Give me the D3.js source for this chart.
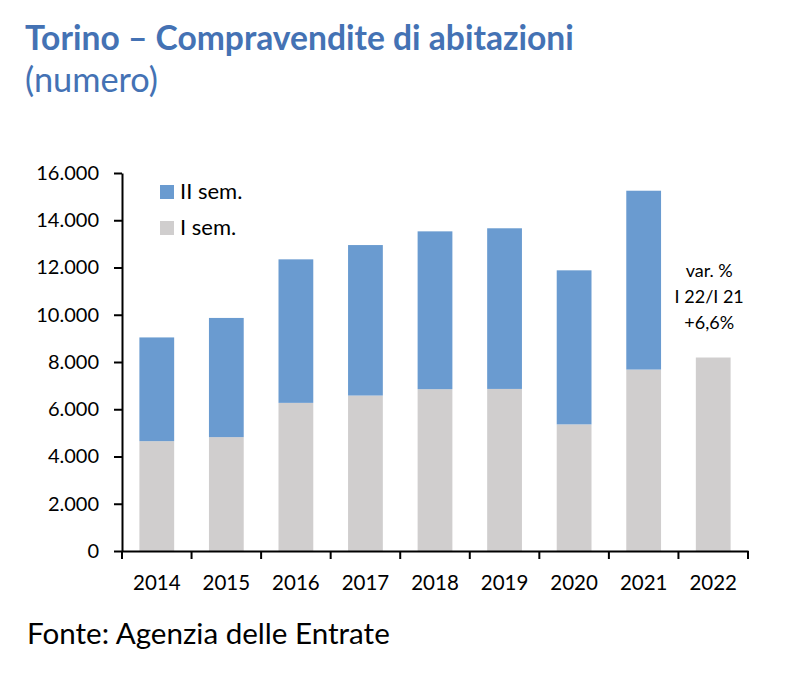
<!DOCTYPE html>
<html>
<head>
<meta charset="utf-8">
<script src="https://cdn.jsdelivr.net/npm/d3@7"></script>
<style>
  html, body { margin: 0; padding: 0; background: #fff; }
  svg { display: block; font-family: Lato, "Open Sans", sans-serif; }
</style>
</head>
<body>
<svg id="chart" width="786" height="682"></svg>
<script>
// ---- data ----
const years = ["2014","2015","2016","2017","2018","2019","2020","2021","2022"];
const firstHalf  = [4650, 4820, 6270, 6580, 6850, 6860, 5360, 7680, 8190];
const secondHalf = [4390, 5045, 6075, 6370, 6680, 6800, 6520, 7570, 0];
const yTicks = [0, 2000, 4000, 6000, 8000, 10000, 12000, 14000, 16000];
const seriesNames = ["I sem.", "II sem."];
const titleLines = ["Torino \u2013 Compravendite di abitazioni", "(numero)"];
const noteLines = ["var. %", "I 22/I 21", "+6,6%"];
const sourceText = "Fonte: Agenzia delle Entrate";

const colors = { "I sem.": "#D0CECE", "II sem.": "#6A9BD0" };
const titleColor = "#4472B4";

const svg = d3.select("#chart");
const plotLeft = 122, plotRight = 748, plotTop = 173, plotBottom = 551;

const x = d3.scaleBand().domain(years).range([plotLeft, plotRight]).paddingInner(0.5).paddingOuter(0.25);
const y = d3.scaleLinear().domain([0, 16000]).range([plotBottom, plotTop]);

const locale = d3.formatLocale({ decimal: ",", thousands: ".", grouping: [3], currency: ["", ""] });
const fmt = locale.format(",d");

// fit a text element's font size so it spans a target width
function fitWidth(sel, base, target) {
  sel.attr("font-size", base);
  const w = sel.node().getComputedTextLength();
  if (w > 0) sel.attr("font-size", base * target / w);
  return sel;
}

// title
fitWidth(svg.append("text").attr("x", 25).attr("y", 50)
  .attr("fill", titleColor).attr("font-weight", 700)
  .text(titleLines[0]), 32, 549);
fitWidth(svg.append("text").attr("x", 25).attr("y", 92)
  .attr("fill", titleColor)
  .text(titleLines[1]), 32, 133);

// stacked data
const rows = years.map((yr, i) => ({ year: yr, "I sem.": firstHalf[i], "II sem.": secondHalf[i] }));
const stack = d3.stack().keys(seriesNames)(rows);

svg.append("g").selectAll("g").data(stack).join("g")
  .attr("fill", d => colors[d.key])
  .selectAll("rect").data(d => d.filter(p => p[1] > p[0])).join("rect")
  .attr("x", d => x(d.data.year))
  .attr("width", x.bandwidth())
  .attr("y", d => y(d[1]))
  .attr("height", d => y(d[0]) - y(d[1]));

// y axis
const yAxis = d3.axisLeft(y).tickValues(yTicks).tickFormat(fmt).tickSize(8).tickSizeOuter(0).tickPadding(15);
const gy = svg.append("g").attr("transform", `translate(${plotLeft},0)`).call(yAxis);
gy.select(".domain").attr("stroke", "#000").attr("stroke-width", 2);
gy.selectAll(".tick line").attr("stroke", "#000").attr("stroke-width", 2);
gy.selectAll(".tick text").attr("font-size", 20).attr("fill", "#000").attr("font-family", "Lato, sans-serif");

// x axis
const xAxis = d3.axisBottom(x).tickSize(0).tickSizeOuter(0).tickPadding(24);
const gx = svg.append("g").attr("transform", `translate(0,${plotBottom})`).call(xAxis);
gx.select(".domain").attr("stroke", "#000").attr("stroke-width", 2);
gx.selectAll(".tick text").attr("font-size", 20.5).attr("fill", "#000").attr("font-family", "Lato, sans-serif");
// boundary ticks between categories
const boundaries = d3.range(years.length + 1).map(i => x.range()[0] + i * x.step());
gx.selectAll("line.bnd").data(boundaries).join("line").attr("class", "bnd")
  .attr("x1", d => d).attr("x2", d => d).attr("y1", 0).attr("y2", 8)
  .attr("stroke", "#000").attr("stroke-width", 2);

// legend
const legendItems = ["II sem.", "I sem."];
const lg = svg.append("g");
legendItems.forEach((name, i) => {
  const yy = 185 + i * 36;
  lg.append("rect").attr("x", 160).attr("y", yy).attr("width", 14).attr("height", 14).attr("fill", colors[name]);
  lg.append("text").attr("x", 180).attr("y", yy + 14).attr("font-size", 22).attr("fill", "#000").text(name);
});

// annotation
const noteX = x("2022") + x.bandwidth() / 2 - 4;
svg.append("g").selectAll("text").data(noteLines).join("text")
  .attr("x", noteX).attr("y", (d, i) => 277 + i * 26)
  .attr("text-anchor", "middle").attr("font-size", 18).attr("fill", "#000")
  .text(d => d);

// source
fitWidth(svg.append("text").attr("x", 27).attr("y", 644).attr("fill", "#000").text(sourceText), 26, 363);
</script>
</body>
</html>
